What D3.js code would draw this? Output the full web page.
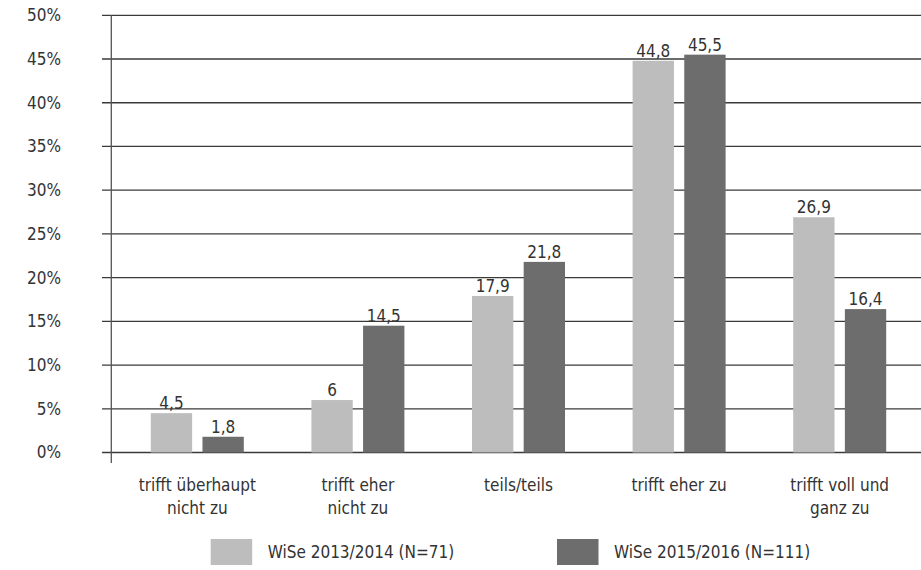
<!DOCTYPE html>
<html>
<head>
<meta charset="utf-8">
<script src="https://cdn.jsdelivr.net/npm/d3@7"></script>
<style>
  body { margin: 0; background: #fff; }
  svg text { font-family: "Liberation Sans Narrow", "DejaVu Sans Condensed", "Roboto", sans-serif; fill: #333; }
</style>
</head>
<body>
<svg width="921" height="570"></svg>
<script>
// data
let categories = [["trifft überhaupt", "nicht zu"], ["trifft eher", "nicht zu"], ["teils/teils"], ["trifft eher zu"], ["trifft voll und", "ganz zu"]];
let seriesNames = ["WiSe 2013/2014 (N=71)", "WiSe 2015/2016 (N=111)"];
let wise2013 = [4.5, 6, 17.9, 44.8, 26.9];
let wise2015 = [1.8, 14.5, 21.8, 45.5, 16.4];
let yTicks = [0, 5, 10, 15, 20, 25, 30, 35, 40, 45, 50];

let colors = ["#bdbdbd", "#6d6d6d"];
let svg = d3.select("svg");

let y = d3.scaleLinear().domain([0, 50]).range([452.5, 15.3]);
let x = d3.scaleBand().domain(d3.range(categories.length)).range([117, 920]).paddingInner(0).paddingOuter(0);
let xs = d3.scaleBand().domain([0, 1]).range([-46.5, 46.5]).paddingInner(0.2);

//###############################################
// grid + axis
//###############################################
let grid = svg.append("g").attr("id", "grid");
grid.selectAll("line")
  .data(yTicks)
  .enter()
  .append("line")
    .attr("x1", 102).attr("x2", 921)
    .attr("y1", (d) => y(d)).attr("y2", (d) => y(d))
    .attr("stroke", "#3a3a3a")
    .attr("stroke-width", 1.3);

grid.selectAll("text")
  .data(yTicks)
  .enter()
  .append("text")
    .attr("x", 61)
    .attr("y", (d) => y(d))
    .attr("dy", "0.35em")
    .attr("text-anchor", "end")
    .style("font-size", "17px")
    .text((d) => d + "%");

svg.append("line")
  .attr("x1", 111.3).attr("x2", 111.3)
  .attr("y1", y(50)).attr("y2", 463)
  .attr("stroke", "#555")
  .attr("stroke-width", 1.3);

//###############################################
// bars
//###############################################
let rows = wise2013.map((v, i) => [
  {cat: i, s: 0, v: v},
  {cat: i, s: 1, v: wise2015[i]}
]);

let groups = svg.append("g").attr("id", "bars")
  .selectAll("g")
  .data(rows)
  .enter()
  .append("g")
    .attr("transform", (d, i) => "translate(" + (x(i) + x.bandwidth() / 2) + ",0)");

groups.selectAll("rect")
  .data((d) => d)
  .enter()
  .append("rect")
    .attr("x", (d) => xs(d.s))
    .attr("width", xs.bandwidth())
    .attr("y", (d) => y(d.v))
    .attr("height", (d) => y(0) - y(d.v))
    .attr("fill", (d) => colors[d.s]);

groups.selectAll("text.val")
  .data((d) => d)
  .enter()
  .append("text")
    .attr("class", "val")
    .attr("x", (d) => xs(d.s) + xs.bandwidth() / 2)
    .attr("y", (d) => y(d.v) - 4)
    .attr("text-anchor", "middle")
    .style("font-size", "17px")
    .text((d) => String(d.v).replace(".", ","));

// category labels
let cats = svg.append("g").attr("id", "cats")
  .selectAll("text")
  .data(categories)
  .enter()
  .append("text")
    .attr("x", (d, i) => x(i) + x.bandwidth() / 2)
    .attr("y", 491)
    .attr("text-anchor", "middle")
    .style("font-size", "17px");

cats.selectAll("tspan")
  .data((d) => d)
  .enter()
  .append("tspan")
    .attr("x", function() { return d3.select(this.parentNode).attr("x"); })
    .attr("dy", (d, i) => i === 0 ? 0 : 23)
    .text((d) => d);

//###############################################
// legend
//###############################################
let legendX = [210.7, 557];
let legend = svg.append("g").attr("id", "legend")
  .selectAll("g")
  .data(seriesNames)
  .enter()
  .append("g")
    .attr("transform", (d, i) => "translate(" + legendX[i] + ",539)");

legend.append("rect")
  .attr("width", 41.5)
  .attr("height", 26)
  .attr("fill", (d, i) => colors[i]);

legend.append("text")
  .attr("x", 57)
  .attr("y", 13)
  .attr("dy", "0.35em")
  .style("font-size", "17px")
  .text((d) => d);
</script>
</body>
</html>
